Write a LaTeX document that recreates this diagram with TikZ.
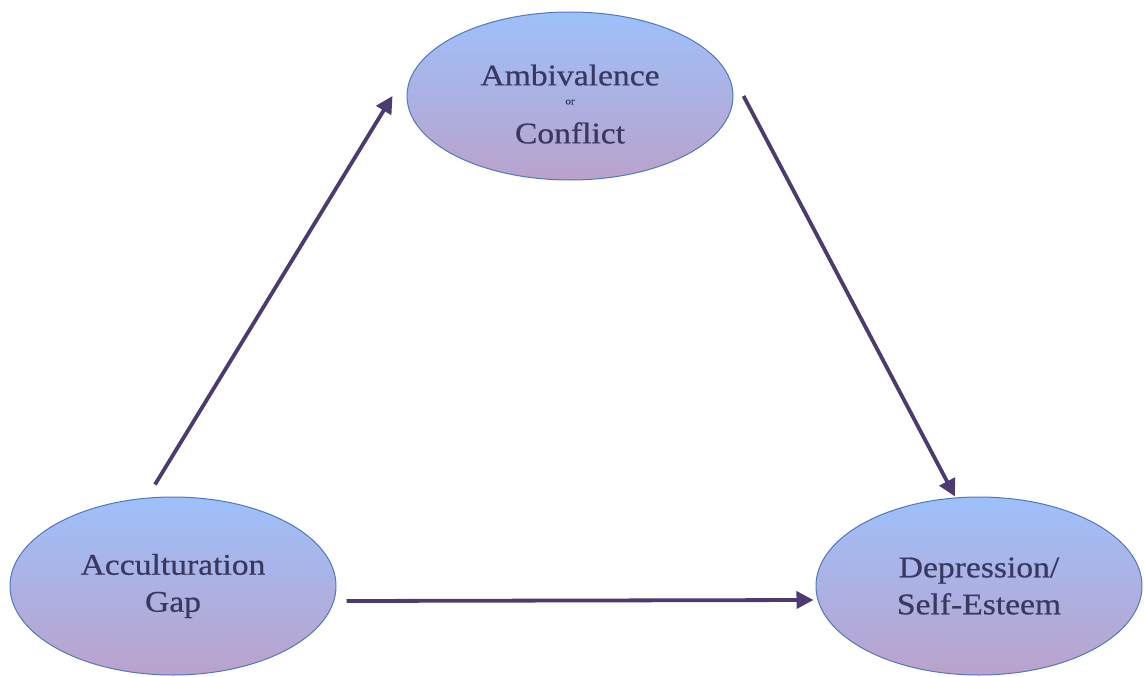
\documentclass[tikz,border=0pt]{standalone}
\usepackage{fontspec}
\setmainfont{Liberation Serif}[FakeStretch=1.12, FakeBold=0.6]
\usetikzlibrary{shapes.geometric,arrows.meta}
\definecolor{ovalblue}{RGB}{158,192,250}
\definecolor{ovalmauve}{RGB}{186,162,204}
\definecolor{ovalline}{RGB}{80,120,190}
\definecolor{txtcol}{RGB}{56,56,96}
\definecolor{arrcol}{RGB}{76,58,112}

\begin{document}
\begin{tikzpicture}[x=1pt, y=-1pt,
    oval/.style={ellipse, draw=ovalline, line width=1pt, top color=ovalblue, bottom color=ovalmauve,
      minimum width=326pt, minimum height=178pt, inner sep=0pt, align=center, text=txtcol,
      font=\fontsize{30}{37}\selectfont},
    link/.style={draw=arrcol, line width=3.8pt, -{Triangle[length=17pt,width=17pt]}}]
    \useasboundingbox (0,0) rectangle (1144,677);

    \node[oval, minimum height=168pt] (amb) at (570, 96) {\rule{0pt}{37pt}Ambivalence\\[-18pt]{\fontsize{10}{10}\selectfont or}\\[2pt]Conflict};
    \node[oval] (acc) at (173, 586) {Acculturation\\Gap};
    \node[oval] (dep) at (979, 586) {Depression/\\Self-Esteem};

    \draw [link] ([xshift=-18pt, yshift=12pt]acc.north) to ([xshift=-14pt]amb.west);
    \draw [link] ([xshift=10pt]amb.east) to ([xshift=-24pt]dep.north);
    \draw [link] ([xshift=10pt, yshift=-15pt]acc.east) to ([xshift=-2pt, yshift=-14pt]dep.west);

\end{tikzpicture}
\end{document}
